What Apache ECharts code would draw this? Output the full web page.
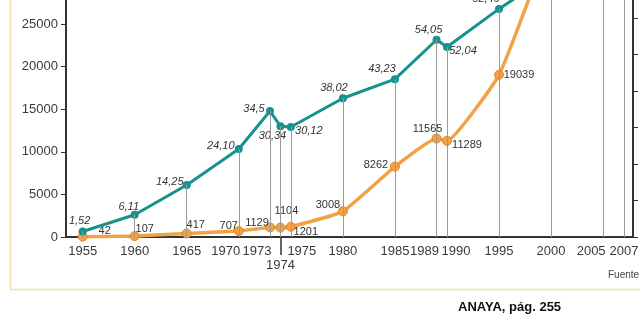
<!DOCTYPE html>
<html>
<head>
<meta charset="utf-8">
<script src="https://cdn.jsdelivr.net/npm/echarts@6/dist/echarts.min.js"></script>
<style>html,body{margin:0;padding:0;background:#fff;}#c{width:640px;height:336px;}</style>
</head>
<body>
<div id="c"></div>
<script>
// ---- data ----
const years = [1955, 1960, 1965, 1970, 1973, 1974, 1975, 1980, 1985, 1989, 1990, 1995, 2000];
const orangeValues = [42, 107, 417, 707, 1129, 1104, 1201, 3008, 8262, 11565, 11289, 19039, 35000];
const tealValues = [1.52, 6.11, 14.25, 24.10, 34.5, 30.34, 30.12, 38.02, 43.23, 54.05, 52.04, 62.49, 72];
const tealLabels = ['1,52', '6,11', '14,25', '24,10', '34,5', '30,34', '30,12', '38,02', '43,23', '54,05', '52,04', '62,49', ''];
const orangeLabels = ['42', '107', '417', '707', '1129', '1104', '1201', '3008', '8262', '11565', '11289', '19039', ''];
const xTickYears = [1955, 1960, 1965, 1970, 1973, 1974, 1975, 1980, 1985, 1989, 1990, 1995, 2000, 2005];
const xTickYearsEnd = [2007];
const extraGuideYears = [2000, 2005, 2007];

// ---- label layout (style only) ----
const orangeOffsets = [[22,-6],[10,-7],[9,-8],[-10,-5],[-13,-4],[6,-17],[15,5],[-15,-6],[-19,-2],[-9,-10],[20,4],[20,0],[0,0]];
const tealOffsets = [[-3,-11],[-6,-8],[-17,-3],[-18,-3],[-16,-2],[-8,10],[18,4],[-9,-10],[-13,-10],[-8,-10],[16,4],[-13,-10],[0,0]];
const xLabelShift = {1970: -13, 1973: -13, 1975: 11, 1989: -12, 1990: 9, 2005: -12};

const chart = echarts.init(document.getElementById('c'), null, {renderer: 'canvas'});
const FONT = 'Liberation Sans, Arial, sans-serif';
const dark = '#333';
const XMIN = 1953.4, XMAX = 2007.87;

const guideData = years.filter(y => y <= 1995).map(y => {
  const i = years.indexOf(y);
  return [{coord: [y, 0]}, {coord: [y, tealValues[i]]}];
}).concat(extraGuideYears.map(y => [{coord: [y, 0]}, {coord: [y, 70]}]));

const rich = {};
Object.keys(xLabelShift).forEach(k => {
  const s = xLabelShift[k];
  rich['s' + k] = {fontFamily: FONT, fontSize: 13, color: '#3a3a3a',
    padding: s < 0 ? [0, -2 * s, 0, 0] : [0, 0, 0, 2 * s]};
});

chart.setOption({
  backgroundColor: '#fff',
  animation: false,
  grid: {left: 66, right: 7, top: -18.5, bottom: 99, outerBoundsMode: 'none', containLabel: false},
  xAxis: [{
    type: 'value', min: XMIN, max: XMAX,
    axisLine: {show: true, lineStyle: {color: dark, width: 2}},
    axisTick: {show: true, customValues: [1974], length: 18, lineStyle: {color: dark, width: 1.5}},
    splitLine: {show: false},
    axisLabel: {
      customValues: xTickYears, margin: 7, hideOverlap: false,
      fontFamily: FONT, fontSize: 13, color: '#3a3a3a', lineHeight: 14,
      rich: rich,
      formatter: v => {
        if (v === 1974) return '\n1974';
        if (xLabelShift[v] !== undefined) return '{s' + v + '|' + v + '}';
        return String(v);
      }
    }
  }, {
    type: 'value', min: XMIN, max: XMAX, position: 'bottom',
    axisLine: {show: false}, axisTick: {show: false}, splitLine: {show: false},
    axisLabel: {customValues: xTickYearsEnd, margin: 7, showMaxLabel: true,
      fontFamily: FONT, fontSize: 13, color: '#3a3a3a', lineHeight: 14,
      formatter: v => String(v)}
  }],
  yAxis: [{
    type: 'value', min: 0, max: 30000, interval: 5000,
    axisLine: {show: true, lineStyle: {color: dark, width: 2}},
    axisTick: {show: true, length: 5, lineStyle: {color: dark}},
    splitLine: {show: false},
    axisLabel: {fontFamily: FONT, fontSize: 13, color: '#3a3a3a', margin: 8, showMaxLabel: false,
      formatter: v => String(v)}
  }, {
    type: 'value', min: 0, max: 70, interval: 10, position: 'right',
    axisLine: {show: true, lineStyle: {color: dark, width: 2}},
    axisTick: {show: true, length: 5, lineStyle: {color: dark}},
    splitLine: {show: false},
    axisLabel: {show: false}
  }],
  series: [{
    type: 'line', yAxisIndex: 1, data: [], z: 1, silent: true,
    markLine: {
      silent: true, symbol: 'none', label: {show: false},
      lineStyle: {color: '#9a9a9a', width: 1, type: 'solid'},
      data: guideData
    }
  }, {
    type: 'line', yAxisIndex: 0, z: 3,
    smooth: 0.12,
    symbol: 'circle', symbolSize: 9,
    lineStyle: {color: '#F2A246', width: 3.5},
    itemStyle: {color: '#F2A246', borderColor: '#D98A2E', borderWidth: 1},
    label: {show: true, position: 'inside', fontFamily: FONT, fontSize: 11, color: '#333'},
    data: years.map((y, i) => ({
      value: [y, orangeValues[i]],
      label: {formatter: orangeLabels[i], offset: orangeOffsets[i]}
    }))
  }, {
    type: 'line', yAxisIndex: 1, z: 4,
    symbol: 'circle', symbolSize: 8,
    lineStyle: {color: '#17928D', width: 3},
    itemStyle: {color: '#17928D'},
    label: {show: true, position: 'inside', fontFamily: FONT, fontSize: 11, fontStyle: 'italic', color: '#333'},
    data: years.map((y, i) => ({
      value: [y, tealValues[i]],
      label: {formatter: tealLabels[i], offset: tealOffsets[i]}
    }))
  }],
  graphic: [
    {type: 'line', shape: {x1: 10.5, y1: 0, x2: 10.5, y2: 289}, style: {stroke: '#F3DCA6', lineWidth: 1.5}, silent: true},
    {type: 'line', shape: {x1: 10, y1: 289.5, x2: 640, y2: 289.5}, style: {stroke: '#F1E0A8', lineWidth: 1.5}, silent: true},
    {type: 'text', left: 608, top: 270, style: {text: 'Fuente', font: '10px ' + FONT, fill: '#444'}},
    {type: 'text', left: 458, top: 301, style: {text: 'ANAYA, pág. 255', font: 'bold 13px ' + FONT, fill: '#111'}}
  ]
});
</script>
</body>
</html>
